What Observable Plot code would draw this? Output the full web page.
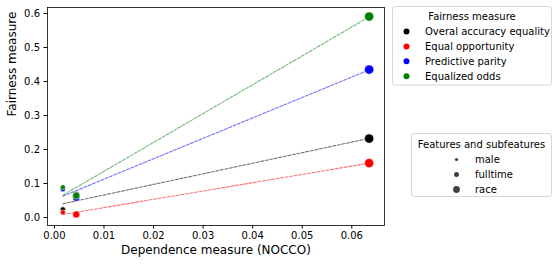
<!DOCTYPE html>
<html><head><meta charset="utf-8">
<script src="https://cdn.jsdelivr.net/npm/d3@7"></script>
<script src="https://cdn.jsdelivr.net/npm/@observablehq/plot@0.6"></script>
<style>body{margin:0;background:#fff;} svg{display:block;}</style>
</head><body><div id="chart"></div>
<script>
const measures = ["Overal accuracy equality", "Equal opportunity", "Predictive parity", "Equalized odds"];
const measureColors = ["#000000", "#ff0000", "#0000ff", "#008000"];
const features = ["male", "fulltime", "race"];
const dependence = [0.0017, 0.0044, 0.0635];
const accuracyEquality = [0.024, 0.066, 0.232];
const equalOpportunity = [0.015, 0.009, 0.160];
const predictiveParity = [0.083, 0.058, 0.435];
const equalizedOdds = [0.089, 0.064, 0.591];
const series = [accuracyEquality, equalOpportunity, predictiveParity, equalizedOdds];
const featureRadii = [2.5, 3.5, 4.6];
const legendRadii = [1.6, 2.5, 3.4];
const xTicks = [0, 0.01, 0.02, 0.03, 0.04, 0.05, 0.06];
const yTicks = [0, 0.1, 0.2, 0.3, 0.4, 0.5, 0.6];

const rows = [];
series.forEach((vals, i) => vals.forEach((v, j) => rows.push({measure: measures[i], feature: features[j], x: dependence[j], y: v, r: featureRadii[j]})));

const plot = Plot.plot({
  width: 554, height: 266,
  marginLeft: 47, marginRight: 170, marginTop: 7, marginBottom: 41,
  style: {fontFamily: "DejaVu Sans", fontSize: "10px", background: "white", color: "black"},
  x: {domain: [-0.0014, 0.0666]},
  y: {domain: [-0.0235, 0.6176]},
  color: {domain: measures, range: measureColors},
  r: {type: "identity"},
  marks: [
    Plot.linearRegressionY(rows, {x: "x", y: "y", stroke: "measure", ci: 0, strokeOpacity: 0.55, strokeWidth: 1.1, strokeDasharray: "3,1.6"}),
    Plot.dot(rows, {x: "x", y: "y", fill: "measure", r: "r", stroke: "white", strokeWidth: 0.5}),
    Plot.axisX({ticks: xTicks, tickFormat: ".2f", tickSize: 3.5, tickPadding: 3, fontSize: 10, label: null}),
    Plot.axisY({ticks: yTicks, tickFormat: ".1f", tickSize: 3.5, tickPadding: 4, fontSize: 10, label: null}),
    Plot.text(["Dependence measure (NOCCO)"], {frameAnchor: "bottom", dy: 28, fontSize: 12}),
    Plot.text(["Fairness measure"], {frameAnchor: "left", dx: -35, rotate: -90, fontSize: 12}),
    Plot.frame({stroke: "black", strokeWidth: 0.8})
  ]
});

const svg = d3.select(plot);
// Legend 1: Fairness measure
const g1 = svg.append("g").attr("font-family", "DejaVu Sans").attr("font-size", 10).attr("fill", "black").attr("text-anchor", "start");
g1.append("rect").attr("x", 392.5).attr("y", 6.5).attr("width", 159).attr("height", 78.5).attr("rx", 2.5)
  .attr("fill", "white").attr("stroke", "#d6d6d6");
g1.append("text").attr("x", 472).attr("y", 16).attr("dy", "0.35em").attr("text-anchor", "middle").text("Fairness measure");
measures.forEach((m, i) => {
  const cy = 31.5 + i * 14.9;
  g1.append("circle").attr("cx", 406.5).attr("cy", cy).attr("r", 3).attr("fill", measureColors[i]);
  g1.append("text").attr("x", 425).attr("y", cy).attr("dy", "0.35em").attr("text-anchor", "start").text(m);
});
// Legend 2: Features and subfeatures
const g2 = svg.append("g").attr("font-family", "DejaVu Sans").attr("font-size", 10).attr("fill", "black").attr("text-anchor", "start");
g2.append("rect").attr("x", 411.5).attr("y", 133.5).attr("width", 140).attr("height", 63).attr("rx", 2.5)
  .attr("fill", "white").attr("stroke", "#d6d6d6");
g2.append("text").attr("x", 481.5).attr("y", 144).attr("dy", "0.35em").attr("text-anchor", "middle").text("Features and subfeatures");
features.forEach((f, i) => {
  const cy = 159.5 + i * 15;
  g2.append("circle").attr("cx", 456.5).attr("cy", cy).attr("r", legendRadii[i]).attr("fill", "#404040");
  g2.append("text").attr("x", 475).attr("y", cy).attr("dy", "0.35em").attr("text-anchor", "start").text(f);
});

document.getElementById("chart").appendChild(plot);
</script>
</body></html>
